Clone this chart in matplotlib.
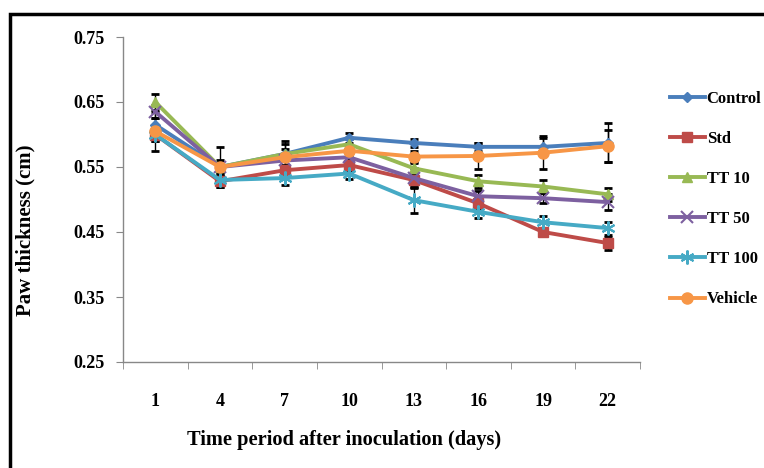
import matplotlib
matplotlib.use("Agg")
import matplotlib.pyplot as plt
from matplotlib.patches import Rectangle

days = ["1", "4", "7", "10", "13", "16", "19", "22"]
control = [0.615, 0.550, 0.570, 0.595, 0.587, 0.581, 0.581, 0.587]
std = [0.600, 0.528, 0.545, 0.553, 0.530, 0.494, 0.450, 0.433]
tt10 = [0.650, 0.550, 0.570, 0.585, 0.548, 0.528, 0.520, 0.508]
tt50 = [0.635, 0.550, 0.560, 0.565, 0.533, 0.505, 0.502, 0.496]
tt100 = [0.600, 0.530, 0.533, 0.540, 0.499, 0.481, 0.465, 0.456]
vehicle = [0.605, 0.550, 0.565, 0.575, 0.566, 0.567, 0.572, 0.582]

control_err = [0.010, 0.030, 0.020, 0.008, 0.006, 0.006, 0.013, 0.030]
std_err = [0.010, 0.008, 0.008, 0.010, 0.010, 0.010, 0.006, 0.010]
tt10_err = [0.012, 0.008, 0.008, 0.008, 0.008, 0.010, 0.010, 0.010]
tt50_err = [0.010, 0.008, 0.008, 0.008, 0.015, 0.008, 0.008, 0.012]
tt100_err = [0.010, 0.008, 0.010, 0.008, 0.020, 0.010, 0.010, 0.010]
vehicle_err = [0.030, 0.010, 0.020, 0.008, 0.008, 0.020, 0.025, 0.025]

series = [
    ("Control", control, control_err, "#4a7ebb", "D", 5),
    ("Std", std, std_err, "#be4b48", "s", 7),
    ("TT 10", tt10, tt10_err, "#98b954", "^", 7),
    ("TT 50", tt50, tt50_err, "#7d60a0", "x", 8),
    ("TT 100", tt100, tt100_err, "#46aac5", (6, 2, 0), 10),
    ("Vehicle", vehicle, vehicle_err, "#f79646", "o", 8),
]

font = "Liberation Serif"
plt.rcParams["font.family"] = [font, "DejaVu Serif"]
plt.rcParams["font.weight"] = "bold"

fig = plt.figure(figsize=(7.64, 4.68), dpi=100)
fig.patches.append(Rectangle((10 / 764, -0.1), 1.2, (468 - 14) / 468 + 0.1,
                             transform=fig.transFigure, fill=False,
                             edgecolor="black", linewidth=2.5, zorder=0))
ax = fig.add_axes([123 / 764, (468 - 362) / 468, (640 - 123) / 764, (362 - 37) / 468])

x = list(range(1, len(days) + 1))
handles = []
for name, vals, err, color, mk, ms in series:
    ax.errorbar(x, vals, yerr=err, fmt="none", ecolor="black", elinewidth=1.0,
                capsize=3, capthick=2, zorder=3)
    h, = ax.plot(x, vals, color=color, lw=2.8, marker=mk, markersize=ms,
                 markeredgecolor=color, markeredgewidth=1.5 if mk in ("x", (6, 2, 0)) else 1,
                 label=name, zorder=4)
    handles.append(h)

ax.set_xlim(0.5, len(days) + 0.5)
ax.set_ylim(0.25, 0.75)
ax.set_yticks([0.25, 0.35, 0.45, 0.55, 0.65, 0.75])
ax.set_yticklabels(["0.25", "0.35", "0.45", "0.55", "0.65", "0.75"])
ax.set_xticks(x)
ax.set_xticklabels(days)
ax.set_xticks([i + 0.5 for i in range(0, len(days) + 1)], minor=True)
ax.tick_params(axis="x", which="major", length=0, pad=22, labelsize=13)
ax.tick_params(axis="x", which="minor", length=5, color="#888888", direction="out")
ax.tick_params(axis="y", length=5, color="#888888", direction="out", labelsize=13, pad=8)
for s in ["top", "right"]:
    ax.spines[s].set_visible(False)
for s in ["left", "bottom"]:
    ax.spines[s].set_color("#888888")
    ax.spines[s].set_linewidth(1.0)

fig.text(25 / 764, 1 - 230 / 468, "Paw thickness (cm)", rotation=90, ha="center",
         va="center", fontsize=15, fontweight="bold")
fig.text(344 / 764, 1 - 440 / 468, "Time period after inoculation (days)", ha="center",
         va="center", fontsize=14.7, fontweight="bold")

leg = fig.legend(handles=handles, loc="upper left", bbox_to_anchor=(663 / 764, 1 - 84 / 468),
                 frameon=False, fontsize=12, handlelength=2.1, handletextpad=0.12,
                 labelspacing=1.45, borderaxespad=0)

fig.savefig("out.png", dpi=100)
